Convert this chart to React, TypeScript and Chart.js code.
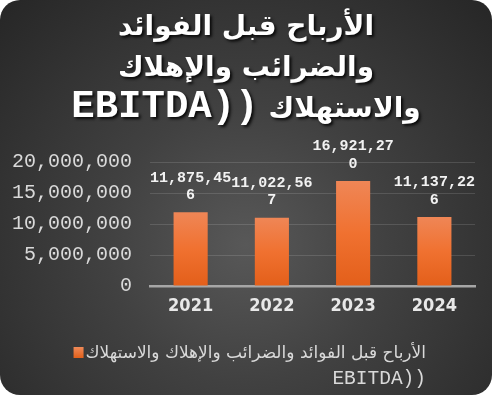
import React, { useEffect, useRef } from "react";
import { Chart, registerables } from "chart.js";

Chart.register(...registerables);

const categories = ["2021", "2022", "2023", "2024"];
const ebitdaValues = [11875456, 11022567, 16921270, 11137226];
const yTickValues = [0, 5000000, 10000000, 15000000, 20000000];
const titleLine1 = "الأرباح قبل الفوائد";
const titleLine2 = "والضرائب والإهلاك";
const titleLine3Latin = "EBITDA))";
const titleLine3Arabic = "والاستهلاك";
const seriesLabelArabic = "الأرباح قبل الفوائد والضرائب والإهلاك والاستهلاك";
const seriesLabelLatin = "EBITDA))";

const fmt = (v: number) => v.toLocaleString("en-US");

const ARABIC = '"DejaVu Sans"';
const MONO = '"Liberation Mono", "Courier New", monospace';

const titlePlugin = {
  id: "customTitle",
  afterDraw(chart: any) {
    const ctx = chart.ctx;
    ctx.save();
    ctx.direction = "ltr";
    ctx.fillStyle = "#ffffff";
    ctx.shadowColor = "rgba(0,0,0,0.85)";
    ctx.shadowOffsetX = 2;
    ctx.shadowOffsetY = 2;
    ctx.shadowBlur = 3;
    ctx.textBaseline = "alphabetic";
    const cx = 246;
    const arFont = `bold 28px ${ARABIC}`;
    const laFont = `bold 39px ${MONO}`;
    ctx.textAlign = "center";
    ctx.font = arFont;
    ctx.fillText(titleLine1, cx, 35);
    ctx.fillText(titleLine2, cx, 76);
    ctx.font = laFont;
    const wl = ctx.measureText(titleLine3Latin).width;
    ctx.font = arFont;
    const wa = ctx.measureText(titleLine3Arabic).width;
    const gap = 10;
    const total = wl + gap + wa;
    const x0 = cx - total / 2;
    ctx.textAlign = "left";
    ctx.font = laFont;
    ctx.fillText(titleLine3Latin, x0, 117);
    ctx.font = arFont;
    ctx.fillText(titleLine3Arabic, x0 + wl + gap, 117);
    ctx.restore();
  },
};

const legendPlugin = {
  id: "customLegend",
  afterDraw(chart: any) {
    const ctx = chart.ctx;
    ctx.save();
    ctx.direction = "ltr";
    ctx.fillStyle = "#d9d9d9";
    ctx.textBaseline = "alphabetic";
    ctx.textAlign = "right";
    const right = 426;
    ctx.font = `17px ${ARABIC}`;
    const w = ctx.measureText(seriesLabelArabic).width;
    ctx.fillText(seriesLabelArabic, right, 358);
    ctx.font = `19.5px ${MONO}`;
    ctx.fillText(seriesLabelLatin, right, 384);
    const sx = right - w - 12;
    const g = ctx.createLinearGradient(0, 347, 0, 358);
    g.addColorStop(0, "#f08a58");
    g.addColorStop(1, "#e2601a");
    ctx.fillStyle = g;
    ctx.fillRect(sx, 347, 10, 11);
    ctx.restore();
  },
};

const dataLabelPlugin = {
  id: "dataLabels",
  afterDatasetsDraw(chart: any) {
    const ctx = chart.ctx;
    const meta = chart.getDatasetMeta(0);
    ctx.save();
    ctx.fillStyle = "#f2f2f2";
    ctx.font = `bold 15px ${MONO}`;
    ctx.textAlign = "center";
    ctx.textBaseline = "middle";
    meta.data.forEach((bar: any, i: number) => {
      const s = fmt(chart.data.datasets[0].data[i]);
      const l1 = s.slice(0, 9);
      const l2 = s.slice(9);
      ctx.fillText(l1, bar.x, bar.y - 34.5);
      if (l2) ctx.fillText(l2, bar.x, bar.y - 17);
    });
    ctx.restore();
  },
};

export default function App() {
  const ref = useRef<HTMLCanvasElement | null>(null);
  useEffect(() => {
    if (!ref.current) return;
    const chart = new Chart(ref.current, {
      type: "bar",
      data: {
        labels: categories,
        datasets: [
          {
            label: seriesLabelArabic + " " + seriesLabelLatin,
            data: ebitdaValues,
            backgroundColor: (c: any) => {
              const chart = c.chart;
              const area = chart.chartArea;
              const ys = chart.scales && chart.scales.y;
              if (!area || !ys || c.raw === undefined) return "#ed7d31";
              const top = ys.getPixelForValue(c.raw);
              const bot = ys.getPixelForValue(0);
              const g = chart.ctx.createLinearGradient(0, top, 0, bot);
              g.addColorStop(0, "#ef8656");
              g.addColorStop(0.5, "#f07130");
              g.addColorStop(1, "#e35f1a");
              return g;
            },
            borderWidth: 0,
            categoryPercentage: 1,
            barPercentage: 0.42,
          },
        ],
      },
      options: {
        responsive: false,
        animation: false,
        layout: { padding: { top: 162, right: 19, bottom: 72, left: 0 } },
        plugins: {
          legend: { display: false },
          title: { display: false },
          tooltip: { enabled: false },
        },
        scales: {
          x: {
            grid: { display: false, drawTicks: false },
            border: { display: true, color: "#a6a6a6", width: 2.5 },
            ticks: {
              color: "#e8e8e8",
              font: { family: '"DejaVu Sans Condensed", "DejaVu Sans"', size: 18, weight: "bold" },
              padding: 10,
            },
            afterFit: (s: any) => {
              s.height = 40;
            },
          },
          y: {
            min: 0,
            max: 20000000,
            afterBuildTicks: (s: any) => {
              s.ticks = yTickValues.map((v) => ({ value: v }));
            },
            ticks: {
              callback: (v: any) => fmt(Number(v)),
              color: "#d9d9d9",
              font: { family: '"Liberation Mono", "Courier New", monospace', size: 20 },
              padding: 18,
            },
            grid: {
              color: (c: any) => (c.tick && c.tick.value === 0 ? "rgba(0,0,0,0)" : "rgba(255,255,255,0.13)"),
              drawTicks: false,
              lineWidth: 1,
            },
            border: { display: false },
            afterFit: (s: any) => {
              s.width = 150;
            },
          },
        },
      },
      plugins: [dataLabelPlugin, titlePlugin, legendPlugin],
    });
    return () => chart.destroy();
  }, []);

  return (
    <div
      style={{
        position: "fixed",
        left: 0,
        top: 0,
        width: 492,
        height: 395,
        borderRadius: 20,
        overflow: "hidden",
        background:
          "radial-gradient(ellipse farthest-corner at 50% 62%, #585858 0%, #414141 40%, #262626 100%)",
      }}
    >
      <canvas ref={ref} width={494} height={398} style={{ display: "block" }} />
    </div>
  );
}
